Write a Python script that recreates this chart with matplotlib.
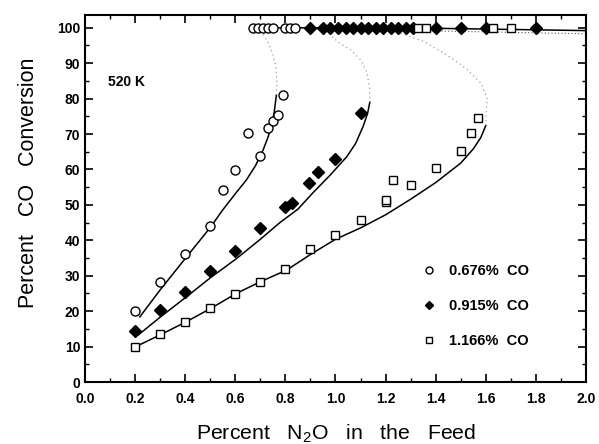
import matplotlib
matplotlib.use("Agg")
import matplotlib.pyplot as plt
from matplotlib.ticker import MultipleLocator
from matplotlib.lines import Line2D

plt.rcParams['font.family'] = ['Liberation Sans', 'DejaVu Sans']
plt.rcParams['mathtext.default'] = 'regular'

# ---- experimental data ----
co1_x = [0.2, 0.3, 0.4, 0.5, 0.55, 0.6, 0.65, 0.7, 0.73, 0.75, 0.77, 0.79]
co1_y = [20.0, 28.3, 36.2, 44.0, 54.3, 59.8, 70.3, 63.7, 71.6, 73.8, 75.3, 81.0]
co2_x = [0.2, 0.3, 0.4, 0.5, 0.6, 0.7, 0.8, 0.825, 0.895, 0.93, 1.0, 1.1]
co2_y = [14.4, 20.3, 25.3, 31.2, 37.0, 43.4, 49.5, 50.6, 56.3, 59.4, 63.0, 75.9]
co3_x = [0.2, 0.3, 0.4, 0.5, 0.6, 0.7, 0.8, 0.9, 1.0, 1.1, 1.2, 1.2, 1.23, 1.3, 1.4, 1.5, 1.54, 1.57]
co3_y = [9.9, 13.5, 17.0, 20.8, 24.9, 28.3, 31.9, 37.5, 41.5, 45.6, 50.9, 51.4, 56.9, 55.5, 60.5, 65.3, 70.3, 74.5]

# points at full conversion
top1_x = [0.67, 0.69, 0.71, 0.73, 0.75, 0.80, 0.82, 0.84]
top2_x = [0.90, 0.95, 0.98, 1.01, 1.04, 1.07, 1.10, 1.13, 1.16, 1.19, 1.22, 1.25, 1.28, 1.31, 1.40, 1.50, 1.60, 1.80]
top3_x = [1.33, 1.36, 1.63, 1.70]
top_y = 100.0

# ---- model curves ----
m1_x = [0.219, 0.30, 0.404, 0.50, 0.55, 0.604, 0.644, 0.68, 0.711, 0.73, 0.744, 0.755, 0.764]
m1_y = [18.4, 26.0, 35.2, 43.6, 48.6, 53.5, 57.0, 61.0, 65.5, 69.0, 72.1, 76.0, 81.0]
m1d_x = [0.764, 0.766, 0.762, 0.75, 0.73, 0.70]
m1d_y = [81.0, 85.0, 89.0, 92.5, 96.0, 99.5]

m2_x = [0.213, 0.30, 0.404, 0.50, 0.604, 0.70, 0.778, 0.85, 0.911, 0.98, 1.045, 1.08, 1.11, 1.128, 1.137]
m2_y = [13.3, 18.3, 24.0, 29.4, 34.8, 40.3, 45.0, 48.8, 53.5, 58.5, 63.6, 67.3, 72.1, 75.8, 79.0]
m2d_x = [1.137, 1.136, 1.125, 1.10, 1.06, 1.02, 0.99, 0.96]
m2d_y = [79.0, 83.0, 87.5, 91.0, 93.8, 95.5, 97.2, 99.5]

m3_x = [0.203, 0.30, 0.404, 0.50, 0.604, 0.70, 0.805, 0.90, 1.0, 1.1, 1.2, 1.3, 1.4, 1.5, 1.55, 1.58, 1.60]
m3_y = [10.0, 13.3, 17.0, 20.7, 25.0, 28.3, 31.6, 36.0, 40.3, 43.5, 47.2, 51.6, 56.3, 61.8, 65.8, 69.0, 72.4]
m3d_x = [1.60, 1.605, 1.58, 1.533, 1.493, 1.433, 1.353, 1.28, 1.20]
m3d_y = [72.4, 80.1, 84.4, 87.7, 90.0, 92.8, 96.1, 98.0, 99.6]

hi_x = [0.66, 1.35, 2.0]
hi_y = [100.0, 99.9, 99.2]
hid_x = [1.25, 2.0]
hid_y = [99.3, 98.3]

labels = ['0.676%  CO', '0.915%  CO', '1.166%  CO']

fig = plt.figure(figsize=(5.99, 4.44), dpi=100)
ax = fig.add_axes([0.1419, 0.1396, 0.8364, 0.8266])

for mx, my in [(m1_x, m1_y), (m2_x, m2_y), (m3_x, m3_y)]:
    ax.plot(mx, my, color='black', lw=1.1)
for mx, my in [(m1d_x, m1d_y), (m2d_x, m2d_y), (m3d_x, m3d_y)]:
    ax.plot(mx, my, color='#888888', lw=0.8, ls=(0, (1, 3)))
ax.plot(hi_x, hi_y, color='black', lw=1.1)
ax.plot(hid_x, hid_y, color='#555555', lw=0.8, ls=(0, (1, 2)))

ms = 6.5
ax.plot(co1_x, co1_y, 'o', mfc='white', mec='black', mew=1.0, ms=ms, ls='none')
ax.plot(co2_x, co2_y, 'D', mfc='black', mec='black', ms=ms - 0.8, ls='none')
ax.plot(co3_x, co3_y, 's', mfc='white', mec='black', mew=1.0, ms=ms - 0.5, ls='none')
ax.plot(top1_x, [top_y] * len(top1_x), 'o', mfc='white', mec='black', mew=1.0, ms=ms, ls='none')
ax.plot(top2_x, [top_y] * len(top2_x), 'D', mfc='black', mec='black', ms=ms - 0.8, ls='none')
ax.plot(top3_x, [top_y] * len(top3_x), 's', mfc='white', mec='black', mew=1.0, ms=ms - 0.5, ls='none')

ax.set_xlim(0, 2.0)
ax.set_ylim(0, 103.6)
ax.xaxis.set_major_locator(MultipleLocator(0.2))
ax.xaxis.set_minor_locator(MultipleLocator(0.1))
ax.yaxis.set_major_locator(MultipleLocator(10))
ax.yaxis.set_minor_locator(MultipleLocator(5))
ax.set_xticklabels([f'{v:.1f}' for v in ax.get_xticks()])
ax.tick_params(which='both', direction='in', top=True, right=True)
ax.tick_params(which='major', length=6, width=1.2, labelsize=10)
ax.tick_params(which='minor', length=3, width=1.0)
ax.tick_params(axis='x', which='major', pad=7)
for lab in ax.get_xticklabels() + ax.get_yticklabels():
    lab.set_fontweight('bold')
for s in ax.spines.values():
    s.set_linewidth(1.5)

ax.set_xlabel('Percent   N$_2$O   in   the   Feed', fontsize=15.3, va='top')
ax.xaxis.set_label_coords(0.501, -0.112)
ax.set_ylabel('Percent   CO   Conversion', fontsize=15.5, va='bottom')
ax.yaxis.set_label_coords(-0.092, 0.542)

ax.text(0.09, 84.7, '520 K', fontsize=10, fontweight='bold', va='center')

handles = [
    Line2D([], [], marker='o', mfc='white', mec='black', ms=5, ls='none'),
    Line2D([], [], marker='D', mfc='black', mec='black', ms=4.5, ls='none'),
    Line2D([], [], marker='s', mfc='white', mec='black', ms=4.5, ls='none'),
]
leg = ax.legend(handles, labels, loc='upper left', bbox_to_anchor=(0.645, 0.358),
                frameon=False, fontsize=10.5, labelspacing=1.45, handletextpad=0.9,
                handlelength=1.0)
for t in leg.get_texts():
    t.set_fontweight('bold')

fig.savefig('out.png', dpi=100)
